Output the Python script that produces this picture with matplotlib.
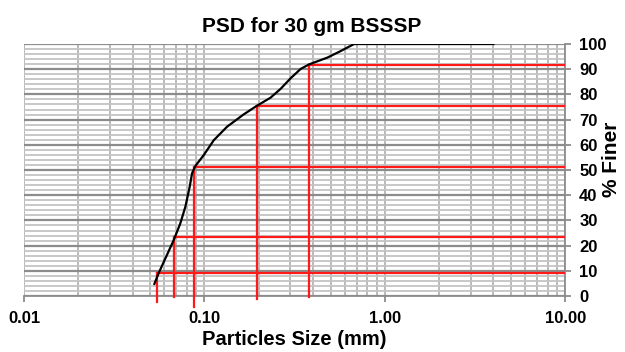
# particle size distribution chart, log x axis with red d-value guides
import matplotlib.pyplot as plt
from matplotlib.ticker import FixedLocator, LogLocator, NullFormatter, MultipleLocator

plt.rcParams["font.family"] = ["Liberation Sans", "DejaVu Sans"]

# curve
size_mm = [0.0528, 0.0557, 0.0675, 0.0735, 0.0784, 0.0829, 0.0854, 0.0891, 0.0991,
           0.1126, 0.1336, 0.1653, 0.1945, 0.2326, 0.2644, 0.3004, 0.3415, 0.3798,
           0.4803, 0.5693, 0.6755, 4.0]
pct_finer = [4.8, 9.0, 22.1, 28.8, 35.4, 43.4, 48.7, 51.6, 55.9,
             61.8, 67.2, 72.1, 75.4, 78.7, 82.2, 86.4, 90.1, 91.9,
             94.6, 97.2, 100.0, 100.0]

# d10, d25, d50, d75, d90 guide lines
d_sizes = [0.0546, 0.0675, 0.0872, 0.1945, 0.3798]
d_pcts = [9.3, 23.5, 51.0, 75.4, 91.6]
d_drop = [-2.5, -0.5, -4.5, -1.0, -0.5]

x_ticks = [0.01, 0.1, 1, 10]
x_labels = ["0.01", "0.10", "1.00", "10.00"]

fig = plt.figure(figsize=(6.25, 3.52), dpi=100)
ax = fig.add_axes([0.0384, 0.159, 0.866, 0.716])

ax.set_xscale("log")
ax.set_xlim(0.01, 10)
ax.set_ylim(0, 100)

# grid
ax.xaxis.set_major_locator(FixedLocator(x_ticks))
ax.xaxis.set_minor_locator(LogLocator(base=10, subs=range(2, 10)))
ax.xaxis.set_minor_formatter(NullFormatter())
ax.yaxis.set_major_locator(MultipleLocator(10))
ax.yaxis.set_minor_locator(MultipleLocator(2))
ax.grid(which="major", axis="y", color="#8c8c8c", lw=1.6)
ax.grid(which="minor", axis="y", color="#c4c4c4", lw=1.3)
ax.grid(which="both", axis="x", color="#b4b4b4", lw=1.3)
ax.set_axisbelow(True)

# red guides
for xs, ys, dr in zip(d_sizes, d_pcts, d_drop):
    ax.plot([xs, 10], [ys, ys], color="#ff1a1a", lw=1.6, zorder=3)
    ax.plot([xs, xs], [dr, ys], color="#ff1a1a", lw=1.6, zorder=3, clip_on=False)

ax.plot(size_mm, pct_finer, color="black", lw=1.6, zorder=4)

for s in ["top", "left"]:
    ax.spines[s].set_visible(False)
ax.spines["bottom"].set_color("#8c8c8c")
ax.spines["right"].set_color("#8c8c8c")
ax.spines["bottom"].set_linewidth(1.3)
ax.spines["right"].set_linewidth(1.3)

ax.yaxis.tick_right()
ax.set_xticklabels(x_labels, fontsize=12, fontweight="bold")
ax.set_yticks(range(0, 101, 10))
ax.set_yticklabels([str(v) for v in range(0, 101, 10)], fontsize=12, fontweight="bold")
ax.tick_params(which="major", length=4, color="#8c8c8c", width=1.3)
ax.tick_params(which="minor", length=0)
ax.tick_params(axis="x", pad=7)
ax.tick_params(axis="y", pad=6)

ax.set_title("PSD for 30 gm BSSSP", fontsize=15, fontweight="bold", pad=9, x=0.531)
ax.set_xlabel("Particles Size (mm)", fontsize=14.5, fontweight="bold", labelpad=3)
fig.text(0.978, 0.548, "% Finer", rotation=90, fontsize=15, fontweight="bold",
         ha="center", va="center")

fig.savefig("out.png", dpi=100)
